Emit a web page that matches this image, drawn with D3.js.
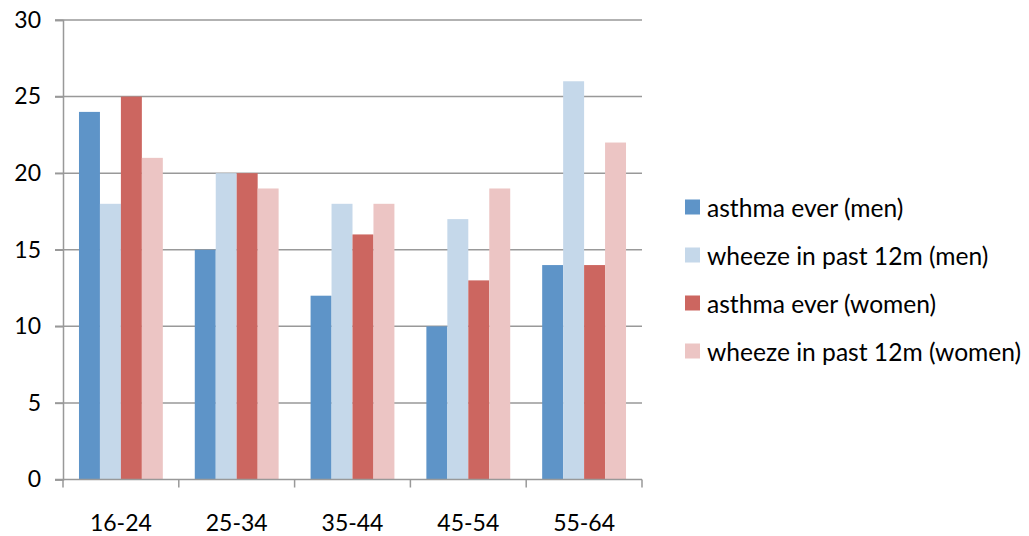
<!DOCTYPE html>
<html><head><meta charset="utf-8">
<script src="https://cdn.jsdelivr.net/npm/d3@7"></script>
<style>body{margin:0;background:#fff}svg{display:block}</style>
</head><body>
<svg id="c" width="1029" height="536"></svg>
<script>
const categories = ["16-24","25-34","35-44","45-54","55-64"];
const seriesNames = ["asthma ever (men)","wheeze in past 12m (men)","asthma ever (women)","wheeze in past 12m (women)"];
const asthmaMen = [24,15,12,10,14];
const wheezeMen = [18,20,18,17,26];
const asthmaWomen = [25,20,16,13,14];
const wheezeWomen = [21,19,18,19,22];
const yTicks = [0,5,10,15,20,25,30];
const colors = ["#5e94c8","#c5d8ea","#cc6660","#ecc5c4"];

const series = [asthmaMen, wheezeMen, asthmaWomen, wheezeWomen];
const svg = d3.select("#c");
const font = "Lato, 'Open Sans', sans-serif";
const x0 = d3.scaleBand().domain(categories).range([63,642]).paddingInner(0.276).paddingOuter(0.138);
const x1 = d3.scaleBand().domain(d3.range(4)).range([0,x0.bandwidth()]);
const y = d3.scaleLinear().domain([0,30]).range([479.5,20]);

// gridlines
svg.append("g").selectAll("line").data(yTicks.filter(d=>d>0)).join("line")
  .attr("x1",55).attr("x2",642).attr("y1",d=>y(d)).attr("y2",d=>y(d))
  .attr("stroke","#999").attr("stroke-width",1.5);

// bars
categories.forEach((c,i)=>{
  svg.append("g").selectAll("rect").data(series.map((s,k)=>({k,v:s[i]}))).join("rect")
    .attr("x",d=>x0(c)+x1(d.k)).attr("width",x1.bandwidth())
    .attr("y",d=>y(d.v)).attr("height",d=>y(0)-y(d.v))
    .attr("fill",d=>colors[d.k]);
});

// y axis
const ya = d3.axisLeft(y).tickValues(yTicks).tickSize(8).tickPadding(14);
const yg = svg.append("g").attr("transform","translate(63,0)").call(ya);
yg.select(".domain").attr("stroke","#999").attr("stroke-width",1.5);
yg.selectAll(".tick line").attr("stroke","#999").attr("stroke-width",1.5);
yg.selectAll("text").attr("font-family",font).attr("font-size",23).attr("fill","#000");

// x axis
const xa = d3.scaleLinear().domain([0,5]).range([63,642]);
const xg = svg.append("g").attr("transform",`translate(0,${y(0)})`);
xg.append("line").attr("x1",55).attr("x2",642).attr("stroke","#999").attr("stroke-width",1.5);
xg.selectAll("line.t").data(d3.range(6)).join("line").attr("class","t")
  .attr("x1",d=>xa(d)).attr("x2",d=>xa(d)).attr("y1",0).attr("y2",8)
  .attr("stroke","#999").attr("stroke-width",1.5);
xg.selectAll("text").data(categories).join("text")
  .attr("x",d=>x0(d)+x0.bandwidth()/2).attr("y",51)
  .attr("text-anchor","middle").attr("font-family",font).attr("font-size",23).attr("fill","#000")
  .text(d=>d);

// legend
const lg = svg.append("g").attr("transform","translate(685,199.5)");
seriesNames.forEach((n,i)=>{
  const g = lg.append("g").attr("transform",`translate(0,${i*48})`);
  g.append("rect").attr("width",15).attr("height",15).attr("fill",colors[i]);
  g.append("text").attr("x",22).attr("y",17).attr("font-family",font).attr("font-size",24.6).attr("fill","#000").text(n);
});
</script>
</body></html>
